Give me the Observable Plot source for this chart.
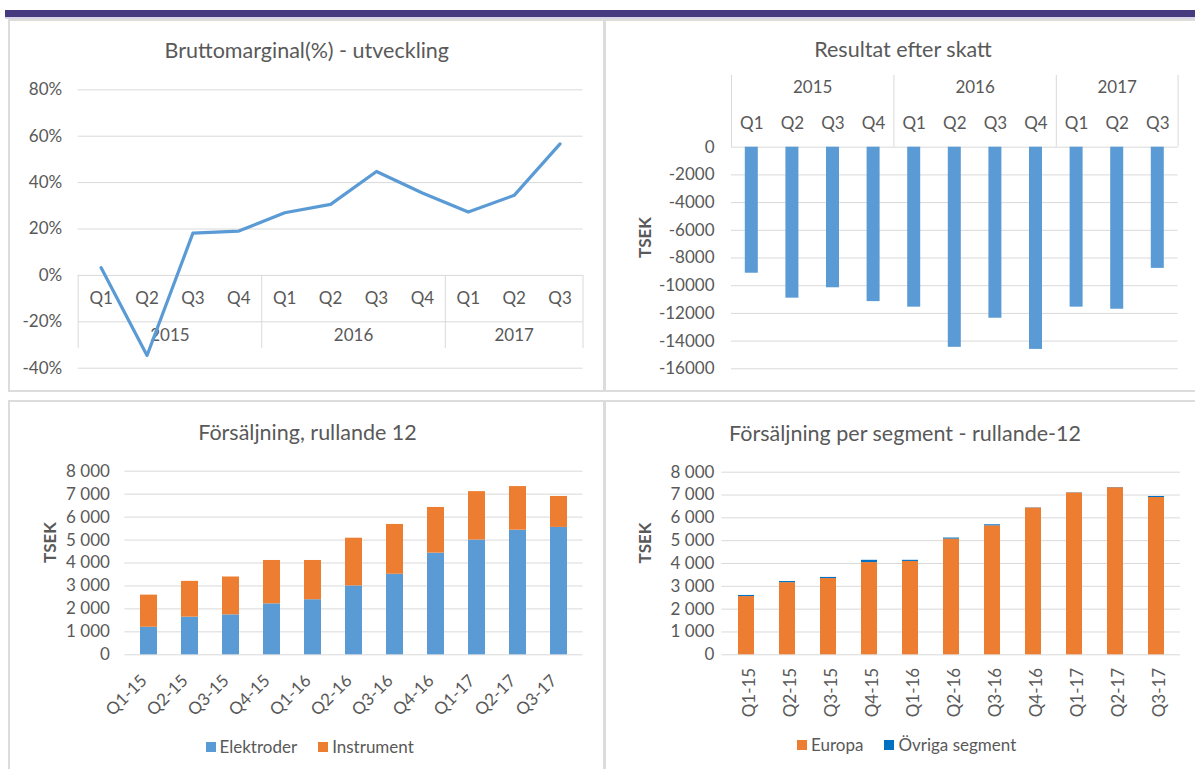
<!DOCTYPE html>
<html><head><meta charset="utf-8">
<script src="https://cdn.jsdelivr.net/npm/d3@7"></script>
<script src="https://cdn.jsdelivr.net/npm/@observablehq/plot@0.6"></script>
<style>
body{margin:0;background:#fff;font-family:Lato,sans-serif;color:#595959}
#page{position:relative;width:1195px;height:769px;overflow:hidden;background:#fff}
.topbar{position:absolute;left:5px;top:10px;width:1190px;height:7px;background:#45397f;box-shadow:0 2px 0 #d6d3e6}
.panel{position:absolute;box-sizing:border-box;border:2px solid #dcdcdc;background:#fff}
.title{position:absolute;width:600px;text-align:center;font-size:21.5px;line-height:26px;white-space:nowrap;color:#595959}
.legend{position:absolute;display:flex;align-items:center;font-size:17px;line-height:20px;white-space:nowrap;color:#595959}
.legend .item{display:flex;align-items:center;margin-right:21px}
.legend .sw{width:10px;height:10px;margin-right:4px}
</style></head>
<body><div id="page">
<div class="topbar"></div>
<div class="panel" style="left:8px;top:19px;width:597px;height:373px"></div>
<div class="panel" style="left:604px;top:19px;width:600px;height:373px"></div>
<div class="panel" style="left:8px;top:400px;width:597px;height:380px"></div>
<div class="panel" style="left:604px;top:400px;width:600px;height:380px"></div>
</div>
<script>
// ---- data ----
const quarters = ["Q1","Q2","Q3","Q4","Q1","Q2","Q3","Q4","Q1","Q2","Q3"];
const years = ["2015","2015","2015","2015","2016","2016","2016","2016","2017","2017","2017"];
const periods = ["Q1-15","Q2-15","Q3-15","Q4-15","Q1-16","Q2-16","Q3-16","Q4-16","Q1-17","Q2-17","Q3-17"];
const bruttomarginal = [3.3, -34.5, 18.2, 19.1, 27.0, 30.6, 44.8, 35.5, 27.3, 34.5, 56.7];
const resultatEfterSkatt = [-9100, -10900, -10150, -11150, -11550, -14450, -12350, -14600, -11550, -11700, -8750];
const elektroder = [1200, 1640, 1740, 2220, 2400, 3000, 3510, 4430, 5000, 5430, 5550];
const instrument = [1400, 1560, 1650, 1890, 1710, 2080, 2170, 1990, 2110, 1900, 1350];
const europa = [2550, 3160, 3340, 4040, 4090, 5070, 5650, 6430, 7090, 7320, 6890];
const ovrigaSegment = [50, 50, 50, 100, 50, 45, 45, 10, 10, 10, 45];
const marginalTicks = [-40, -20, 0, 20, 40, 60, 80];
const resultatTicks = [0, -2000, -4000, -6000, -8000, -10000, -12000, -14000, -16000];
const salesTicks = [0, 1000, 2000, 3000, 4000, 5000, 6000, 7000, 8000];
const productSeries = ["Elektroder", "Instrument"];
const productColors = ["#5B9BD5", "#ED7D31"];
const segmentSeries = ["Europa", "Övriga segment"];
const segmentColors = ["#ED7D31", "#0070C0"];
const titles = ["Bruttomarginal(%) - utveckling", "Resultat efter skatt", "Försäljning, rullande 12", "Försäljning per segment - rullande-12"];
const axisLabel = "TSEK";

// ---- helpers ----
const GRID = "#d9d9d9", TEXT = "#595959", FONT = "Lato, sans-serif";
const page = document.getElementById("page");
const rows = quarters.map((q, i) => ({i, q, year: years[i], period: periods[i]}));
const yearGroups = d3.groups(rows, d => d.year).map(([year, g]) => ({
  year, mid: d3.mean(g, d => d.i), start: d3.min(g, d => d.i) - 0.5, end: d3.max(g, d => d.i) + 0.5
}));
const separators = Array.from(new Set(yearGroups.flatMap(g => [g.start, g.end])));
const spaceFmt = d => d3.format(",")(d).replace(/,/g, "\u00a0");
const style = {background: "transparent", overflow: "visible", fontFamily: FONT, fontSize: "17px", color: TEXT};
const T = {fill: TEXT, fontSize: 17};

function place(node, left, top) {
  node.style.position = "absolute";
  node.style.left = left + "px";
  node.style.top = top + "px";
  page.appendChild(node);
}
function title(text, cx, cy) {
  const d = document.createElement("div");
  d.className = "title";
  d.textContent = text;
  d.style.left = (cx - 300) + "px";
  d.style.top = (cy - 13) + "px";
  page.appendChild(d);
}
function legend(series, colors, left, cy) {
  const d = document.createElement("div");
  d.className = "legend";
  d.style.left = left + "px";
  d.style.top = (cy - 10) + "px";
  series.forEach((s, k) => {
    const it = document.createElement("div");
    it.className = "item";
    const sw = document.createElement("div");
    sw.className = "sw";
    sw.style.background = colors[k];
    const tx = document.createElement("span");
    tx.textContent = s;
    it.appendChild(sw); it.appendChild(tx);
    d.appendChild(it);
  });
  page.appendChild(d);
}

// ---- Chart 1: Bruttomarginal ----
const c1 = Plot.plot({
  width: 605, height: 330, marginTop: 29.3, marginBottom: 22.3, marginLeft: 77.7, marginRight: 22.5,
  style,
  x: {type: "linear", domain: [-0.5, rows.length - 0.5], axis: null},
  y: {domain: [-40, 80], axis: null},
  marks: [
    Plot.ruleY(marginalTicks, {stroke: GRID}),
    Plot.ruleX(separators, {y1: 0, y2: -31.5, stroke: GRID}),
    Plot.text(marginalTicks, {y: d => d, text: d => d + "%", frameAnchor: "left", textAnchor: "end", dx: -16, ...T}),
    Plot.text(rows, {x: "i", y: 0, dy: 23, text: "q", ...T}),
    Plot.text(yearGroups, {x: "mid", y: 0, dy: 60, text: "year", ...T}),
    Plot.line(rows, {x: "i", y: d => bruttomarginal[d.i], stroke: "#5B9BD5", strokeWidth: 3.2, strokeLinejoin: "round", strokeLinecap: "round"})
  ]
});
place(c1, 0, 60);
title(titles[0], 306.8, 50);

// ---- Chart 2: Resultat efter skatt ----
const c2 = Plot.plot({
  width: 591, height: 330, marginTop: 86.7, marginBottom: 21.7, marginLeft: 127, marginRight: 17.4,
  style,
  x: {type: "linear", domain: [-0.5, rows.length - 0.5], axis: null},
  y: {domain: [-16000, 0], axis: null},
  marks: [
    Plot.ruleY(resultatTicks, {stroke: GRID}),
    Plot.ruleX(separators, {y1: 0, y2: 5180, stroke: GRID}),
    Plot.text(resultatTicks, {y: d => d, text: d => String(d), frameAnchor: "left", textAnchor: "end", dx: -17, ...T}),
    Plot.text(rows, {x: "i", y: 0, dy: -24, text: "q", ...T}),
    Plot.text(yearGroups, {x: "mid", y: 0, dy: -60, text: "year", ...T}),
    Plot.rect(rows, {x1: d => d.i - 0.5, x2: d => d.i + 0.5, y1: 0, y2: d => resultatEfterSkatt[d.i], fill: "#5B9BD5", insetLeft: 13.8, insetRight: 13.8}),
    Plot.text([axisLabel], {frameAnchor: "left", rotate: -90, dx: -86, text: d => d, fontWeight: "bold", ...T})
  ]
});
place(c2, 604, 60);
title(titles[1], 903, 49.3);

// ---- Chart 3: Försäljning, rullande 12 ----
const productData = productSeries.flatMap((s, k) => periods.map((p, i) => ({period: p, series: s, value: [elektroder, instrument][k][i]})));
const c3 = Plot.plot({
  width: 605, height: 280, marginTop: 30.7, marginBottom: 65.7, marginLeft: 124.4, marginRight: 22.5,
  style,
  x: {type: "band", domain: periods, paddingInner: 0.59, paddingOuter: 0.295, axis: null},
  y: {domain: [0, 8000], axis: null},
  color: {domain: productSeries, range: productColors},
  marks: [
    Plot.ruleY(salesTicks, {stroke: GRID}),
    Plot.text(salesTicks, {y: d => d, text: spaceFmt, frameAnchor: "left", textAnchor: "end", dx: -15, ...T}),
    Plot.barY(productData, {x: "period", y: "value", fill: "series"}),
    Plot.text(periods, {x: d => d, y: 0, text: d => d, rotate: -45, textAnchor: "end", dx: -5, dy: 23, ...T}),
    Plot.text([axisLabel], {frameAnchor: "left", rotate: -90, dx: 49.8 - 124.4, text: d => d, fontWeight: "bold", ...T})
  ]
});
place(c3, 0, 440);
title(titles[2], 307.5, 431.7);
legend(productSeries, productColors, 205.5, 746.7);

// ---- Chart 4: Försäljning per segment ----
const segmentData = segmentSeries.flatMap((s, k) => periods.map((p, i) => ({period: p, series: s, value: [europa, ovrigaSegment][k][i]})));
const c4 = Plot.plot({
  width: 591, height: 280, marginTop: 31.7, marginBottom: 65.7, marginLeft: 117.4, marginRight: 15.1,
  style,
  x: {type: "band", domain: periods, paddingInner: 0.61, paddingOuter: 0.305, axis: null},
  y: {domain: [0, 8000], axis: null},
  color: {domain: segmentSeries, range: segmentColors},
  marks: [
    Plot.ruleY(salesTicks, {stroke: GRID}),
    Plot.text(salesTicks, {y: d => d, text: spaceFmt, frameAnchor: "left", textAnchor: "end", dx: -7.5, ...T}),
    Plot.barY(segmentData, {x: "period", y: "value", fill: "series"}),
    Plot.text(periods, {x: d => d, y: 0, text: d => d, rotate: -90, textAnchor: "end", dx: 3, dy: 13, ...T}),
    Plot.text([axisLabel], {frameAnchor: "left", rotate: -90, dx: 40.8 - 117.4, text: d => d, fontWeight: "bold", ...T})
  ]
});
place(c4, 604, 440);
title(titles[3], 905, 433.3);
legend(segmentSeries, segmentColors, 797, 745);
</script>
</body></html>
